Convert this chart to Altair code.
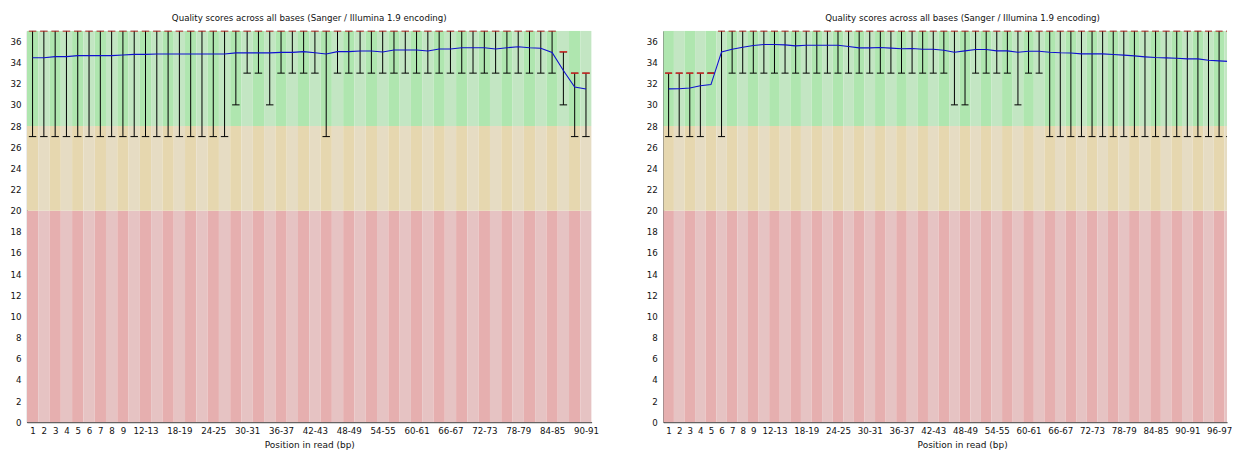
import json
import altair as alt
import pandas as pd

# ---------------- data ----------------
left_positions = ["1", "2", "3", "4", "5", "6", "7", "8", "9",
                  "10-11", "12-13", "14-15", "16-17", "18-19", "20-21", "22-23", "24-25",
                  "26-27", "28-29", "30-31", "32-33", "34-35", "36-37", "38-39", "40-41",
                  "42-43", "44-45", "46-47", "48-49", "50-51", "52-53", "54-55", "56-57",
                  "58-59", "60-61", "62-63", "64-65", "66-67", "68-69", "70-71", "72-73",
                  "74-75", "76-77", "78-79", "80-81", "82-83", "84-85", "86-87", "88-89",
                  "90-91"]
left_mean = [34.46, 34.46, 34.56, 34.56, 34.65, 34.65, 34.65, 34.65, 34.72, 34.77,
             34.77, 34.81, 34.81, 34.81, 34.81, 34.81, 34.81, 34.81, 34.91, 34.91,
             34.91, 34.91, 34.96, 34.96, 35.03, 34.93, 34.81, 35.03, 35.03, 35.09,
             35.09, 35.00, 35.19, 35.19, 35.19, 35.09, 35.28, 35.28, 35.40, 35.40,
             35.40, 35.28, 35.40, 35.50, 35.40, 35.35, 34.96, 33.25, 31.68, 31.50]
left_p10 = [27, 27, 27, 27, 27, 27, 27, 27, 27, 27,
            27, 27, 27, 27, 27, 27, 27, 27, 30, 33,
            33, 30, 33, 33, 33, 33, 27, 33, 33, 33,
            33, 33, 33, 33, 33, 33, 33, 33, 33, 33,
            33, 33, 33, 33, 33, 33, 33, 30, 27, 27]
left_p90 = [37] * 47 + [35, 33, 33]
left_median = [37] * 47 + [35, 33, 33]
left_ticks = ["1", "2", "3", "4", "5", "6", "7", "8", "9", "12-13", "18-19", "24-25",
              "30-31", "36-37", "42-43", "48-49", "54-55", "60-61", "66-67", "72-73",
              "78-79", "84-85", "90-91"]

right_positions = ["1", "2", "3", "4", "5", "6", "7", "8", "9",
                   "10-11", "12-13", "14-15", "16-17", "18-19", "20-21", "22-23", "24-25",
                   "26-27", "28-29", "30-31", "32-33", "34-35", "36-37", "38-39", "40-41",
                   "42-43", "44-45", "46-47", "48-49", "50-51", "52-53", "54-55", "56-57",
                   "58-59", "60-61", "62-63", "64-65", "66-67", "68-69", "70-71", "72-73",
                   "74-75", "76-77", "78-79", "80-81", "82-83", "84-85", "86-87", "88-89",
                   "90-91", "92-93", "94-95", "96-97", "98-99", "100-101"]
right_mean = [31.51, 31.53, 31.60, 31.80, 31.92, 35.01, 35.26, 35.45, 35.61, 35.70,
              35.70, 35.67, 35.58, 35.64, 35.64, 35.64, 35.64, 35.51, 35.39, 35.39,
              35.42, 35.36, 35.30, 35.33, 35.26, 35.26, 35.17, 34.98, 35.10, 35.23,
              35.23, 35.10, 35.10, 34.98, 35.07, 35.07, 34.98, 34.92, 34.90, 34.82,
              34.82, 34.82, 34.76, 34.70, 34.63, 34.54, 34.47, 34.44, 34.41, 34.35,
              34.35, 34.22, 34.16, 34.10, 32.90]
right_p10 = [27, 27, 27, 27, 33, 27, 33, 33, 33, 33,
             33, 33, 33, 33, 33, 33, 33, 33, 33, 33,
             33, 33, 33, 33, 33, 33, 33, 30, 30, 33,
             33, 33, 33, 30, 33, 33, 27, 27, 27, 27,
             27, 27, 27, 27, 27, 27, 27, 27, 27, 27,
             27, 27, 27, 27, 27]
right_p90 = [33] * 5 + [37] * 50
right_median = [33] * 5 + [37] * 50
right_ticks = ["1", "2", "3", "4", "5", "6", "7", "8", "9", "12-13", "18-19", "24-25",
               "30-31", "36-37", "42-43", "48-49", "54-55", "60-61", "66-67", "72-73",
               "78-79", "84-85", "90-91", "96-97"]

y_ticks = [0, 2, 4, 6, 8, 10, 12, 14, 16, 18, 20, 22, 24, 26, 28, 30, 32, 34, 36]
zone_edges = [0, 20, 28, 37]
zone_names = ["bad", "ok", "good"]
shade_keys = ["good-0", "good-1", "ok-0", "ok-1", "bad-0", "bad-1"]
shade_colors = ["#afe6af", "#c3e6c3", "#e6d7af", "#e6dcc3", "#e6afaf", "#e6c3c3"]

TITLE = "Quality scores across all bases (Sanger / Illumina 1.9 encoding)"
FONT = "DejaVu Sans"


def panel(positions, mean, p10, p90, median, ticks, n_visible, width, height,
          title_dx, axis_title_x=None):
    n = len(positions)
    stats = pd.DataFrame({"idx": list(range(n)), "pos": positions,
                          "mean": mean, "p10": p10, "p90": p90, "median": median})
    bg = pd.DataFrame([{"idx": i, "zone": z, "lo": zone_edges[k], "hi": zone_edges[k + 1]}
                       for i in range(n) for k, z in enumerate(zone_names)])

    xscale = alt.Scale(domain=[0, n_visible], nice=False, zero=False)
    yscale = alt.Scale(domain=[0, 37], nice=False)
    tick_values = [positions.index(t) + 0.5 for t in ticks]
    label_expr = json.dumps(positions) + "[floor(datum.value)]"
    ax_kw = dict(values=tick_values, labelExpr=label_expr, title="Position in read (bp)",
                 ticks=False, grid=False, labelOverlap=False, labelFlush=False,
                 labelAngle=0, labelPadding=4.5, titlePadding=5, domainColor="#333333",
                 labelColor="#111111", titleColor="#111111", labelFontSize=8.7,
                 titleFontSize=9, titleFontWeight="normal", labelFont=FONT, titleFont=FONT)
    if axis_title_x is not None:
        ax_kw["titleX"] = axis_title_x
    xaxis = alt.Axis(**ax_kw)
    yaxis = alt.Axis(values=y_ticks, title=None, ticks=False, grid=False, labelPadding=6,
                     domainColor="#333333", labelColor="#111111", labelFontSize=8.7,
                     labelFont=FONT)

    rect = alt.Chart(bg).transform_calculate(
        x1="datum.idx + 1", shade="datum.zone + '-' + (datum.idx % 2)"
    ).mark_rect(clip=True, strokeWidth=0).encode(
        x=alt.X("idx:Q", scale=xscale, axis=xaxis),
        x2="x1:Q",
        y=alt.Y("lo:Q", scale=yscale, axis=yaxis),
        y2="hi:Q",
        color=alt.Color("shade:N", scale=alt.Scale(domain=shade_keys, range=shade_colors),
                        legend=None),
    )

    base = alt.Chart(stats).transform_calculate(
        xc="datum.idx + 0.5", xa="datum.idx + 0.17", xb="datum.idx + 0.83"
    )
    whisker = base.mark_rule(clip=True, color="#000000", strokeWidth=1).encode(
        x=alt.X("xc:Q", scale=xscale, axis=xaxis),
        y=alt.Y("p10:Q", scale=yscale, axis=yaxis), y2="p90:Q")
    low_cap = base.mark_rule(clip=True, color="#000000", strokeWidth=1).encode(
        x=alt.X("xa:Q", scale=xscale, axis=xaxis), x2="xb:Q",
        y=alt.Y("p10:Q", scale=yscale, axis=yaxis))
    up_cap = base.mark_rule(clip=True, color="#000000", strokeWidth=1).encode(
        x=alt.X("xa:Q", scale=xscale, axis=xaxis), x2="xb:Q",
        y=alt.Y("p90:Q", scale=yscale, axis=yaxis))
    med = base.mark_rule(clip=True, color="#f02424", strokeWidth=1.2).encode(
        x=alt.X("xa:Q", scale=xscale, axis=xaxis), x2="xb:Q",
        y=alt.Y("median:Q", scale=yscale, axis=yaxis))
    mline = base.mark_line(clip=True, color="#1010d0", strokeWidth=1.1).encode(
        x=alt.X("xc:Q", scale=xscale, axis=xaxis),
        y=alt.Y("mean:Q", scale=yscale, axis=yaxis), order="idx:Q")

    return alt.layer(rect, whisker, low_cap, up_cap, med, mline).properties(
        width=width, height=height,
        title=alt.TitleParams(TITLE, font=FONT, fontSize=8.7, fontWeight="normal",
                              color="#111111", anchor="middle", offset=8.3, dx=title_dx),
    )


left = panel(left_positions, left_mean, left_p10, left_p90, left_median, left_ticks,
             50, 567, 393, 0)
right = panel(right_positions, right_mean, right_p10, right_p90, right_median, right_ticks,
              53.25, 566, 393, 17.5, axis_title_x=300)

chart = alt.hconcat(left, right, spacing=72, bounds="flush").properties(
    padding={"left": 1, "top": 5, "right": 0, "bottom": 0},
    background="white",
).configure_view(stroke=None)

chart.save("out.html", embed_options={"renderer": "svg", "actions": False})
